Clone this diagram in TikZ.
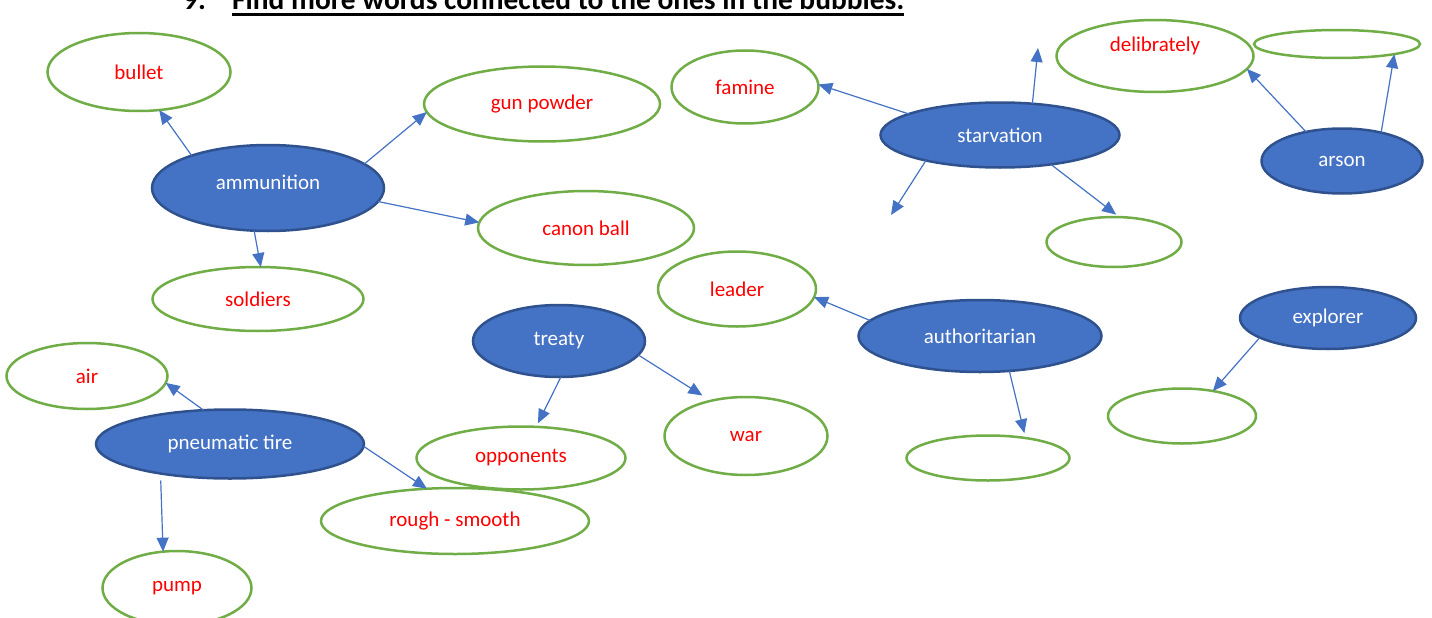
\documentclass[tikz,border=0pt]{standalone}
\usepackage{fontspec}
\setmainfont{Carlito}
\usetikzlibrary{shapes.geometric,arrows.meta}
\definecolor{bubbleblue}{HTML}{4472C4}
\definecolor{bubbleedge}{HTML}{2F528F}
\definecolor{bubblegreen}{HTML}{70AD47}
\definecolor{wordred}{HTML}{FF0000}
\newcommand{\thickul}[1]{\setbox0\hbox{#1}\rlap{\rule[-6pt]{\wd0}{2.5pt}}\box0}
\begin{document}
\begin{tikzpicture}[x=1pt,y=-1pt,
  sz/.style 2 args={minimum width=#1pt,minimum height=#2pt},
  topic/.style={ellipse,draw=bubbleedge,fill=bubbleblue,line width=2.5pt,
    text=white,inner sep=0pt,outer sep=0pt,font=\fontsize{21}{25}\selectfont},
  word/.style={ellipse,draw=bubblegreen,fill=white,line width=2.5pt,
    text=wordred,inner sep=0pt,outer sep=0pt,font=\fontsize{21}{25}\selectfont},
  link/.style={-{Triangle[length=14pt,width=12pt]},draw=bubbleblue,line width=1.2pt}]
  \useasboundingbox (0,0) rectangle (1432,618);

  % Title (cut off at the top)
  \node[anchor=base west,inner sep=0pt,font=\fontsize{29.4}{34}\selectfont\bfseries]
    (title) at (183,10) {\makebox[49pt][l]{9.}\thickul{Find more words connected to the ones in the bubbles:}};

  % Topic bubbles
  \node[topic,sz={232}{86}] (ammo) at (268,188) {\raisebox{6pt}[\height][\depth]{ammunition}};
  \node[topic,sz={239}{65}] (starv) at (1000,135) {starvation};
  \node[topic,sz={161}{65}] (arson) at (1342,161) {arson};
  \node[topic,sz={172}{72}] (treaty) at (559,341) {treaty};
  \node[topic,sz={243}{72}] (auth) at (980,336) {authoritarian};
  \node[topic,sz={176}{62}] (exp) at (1328,318) {explorer};
  \node[topic,sz={268}{69}] (pneu) at (230,444) {pneumatic tire};

  % Word bubbles
  \node[word,sz={183}{78}] (bullet) at (139,72) {bullet};
  \node[word,sz={236}{75}] (gunpowder) at (542,104) {gun powder};
  \node[word,sz={216}{74}] (canonball) at (586,228) {canon ball};
  \node[word,sz={211}{64}] (soldiers) at (258,299) {soldiers};
  \node[word,sz={161}{66}] (air) at (87,376) {air};
  \node[word,sz={149}{74}] (pump) at (177,588) {pump};
  \node[word,sz={268}{66}] (rough) at (455,521) {rough - smooth};
  \node[word,sz={209}{63}] (opp) at (521,458) {opponents};
  \node[word,sz={163}{78}] (war) at (746,436) {war};
  \node[word,sz={158}{75}] (leader) at (737,289) {leader};
  \node[word,sz={147}{73}] (famine) at (745,87) {famine};
  \node[word,sz={197}{72}] (delib) at (1155,56) {\raisebox{10pt}[\height][\depth]{delibrately}};

  % Empty word bubbles
  \node[word,sz={166}{28}] (blankB) at (1337,44) {};
  \node[word,sz={135}{50}] (blankA) at (1114,242) {};
  \node[word,sz={163}{45}] (blankC) at (988,458) {};
  \node[word,sz={148}{55}] (blankD) at (1182,416) {};

  % Loose arrow ends
  \coordinate (upend) at (1038,48);
  \coordinate (downend) at (891,215);

  % Connectors
  \foreach \from/\to/\gap in {ammo.157/bullet.-62/0, ammo.14/gunpowder.184/0,
      ammo.-7/canonball.177/0, ammo.252/soldiers.85/0,
      starv.167/famine.2/0, starv.44/upend/0, starv.199/downend/0,
      starv.-30/blankA.78/4, arson.141/delib.-8/0, arson.36/blankB.-10/0,
      auth.172/leader.-6/0, auth.-50/blankC.28/5, exp.196/blankD.39/0,
      treaty.-87/opp.64/4, treaty.-10/war.135/10,
      pneu.128/air.-5/0, pneu.-1/rough.131/0}
    \draw[link,shorten >=\gap pt] (\from) -- (\to);
  \draw[link,shorten <=7pt] (pneu.-157) -- (pump.111);
\end{tikzpicture}
\end{document}
